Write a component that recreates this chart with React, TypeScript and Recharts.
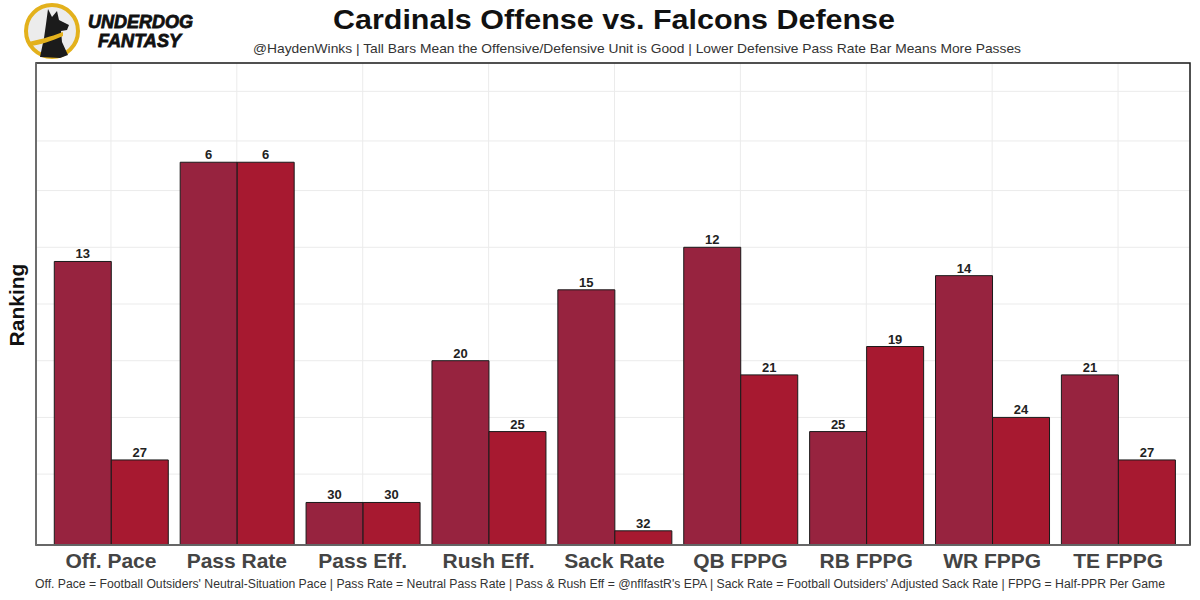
import { BarChart, Bar, XAxis, YAxis, CartesianGrid, LabelList } from 'recharts';

const categories = ['Off. Pace', 'Pass Rate', 'Pass Eff.', 'Rush Eff.', 'Sack Rate', 'QB FPPG', 'RB FPPG', 'WR FPPG', 'TE FPPG'];
const offenseRank = [13, 6, 30, 20, 15, 12, 25, 14, 21];
const defenseRank = [27, 6, 30, 25, 32, 21, 19, 24, 27];
const gridTicks = [5, 9, 13, 17, 21, 25, 28.5, 32];
const TEAMS = 32;

const OFF_COLOR = '#97233F';
const DEF_COLOR = '#A71930';
const FONT = '"Liberation Sans", Arial, sans-serif';

// bar height = inverse of rank, so rank 1 is tallest
const chartData = categories.map((name, i) => ({
  name,
  offRank: offenseRank[i],
  defRank: defenseRank[i],
  off: TEAMS + 1 - offenseRank[i],
  def: TEAMS + 1 - defenseRank[i],
}));

function Logo() {
  return (
    <g>
      <circle cx={52} cy={31} r={26} fill="#ececec" stroke="#E3B11C" strokeWidth={4} />
      <path d="M40 57 L44 38 L46 24 L48 9 L52 17 L57 11 L59 20 L69 25 L67 30 L61 31 L62 42 L68 55 L60 58 Z" fill="#1b1b1b" />
      <path d="M28 42 C38 40 50 37 63 32 L63 36 C52 41 40 45 30 46 Z" fill="#E3B11C" />
      <text x={88} y={28} fontFamily={FONT} fontSize={18} fontWeight={900} fontStyle="italic" fill="#111" stroke="#111" strokeWidth={0.8} textLength={105} lengthAdjust="spacingAndGlyphs">UNDERDOG</text>
      <text x={98} y={47} fontFamily={FONT} fontSize={18} fontWeight={900} fontStyle="italic" fill="#111" stroke="#111" strokeWidth={0.8} textLength={83} lengthAdjust="spacingAndGlyphs">FANTASY</text>
    </g>
  );
}

export default function App() {
  return (
    <div style={{ position: 'relative', width: 1200, height: 600, background: '#fff', fontFamily: FONT }}>
      <style>{`body{margin:0}`}</style>
      <div style={{ position: 'absolute', left: 0, top: 0 }}>
        <BarChart
          width={1200}
          height={600}
          data={chartData}
          margin={{ top: 63, right: 10, left: 36, bottom: 25 }}
          barCategoryGap="5%"
          barGap={0}
        >
          <CartesianGrid stroke="#ebebeb" strokeWidth={1} />
          <XAxis
            dataKey="name"
            height={30}
            padding={{ left: 12, right: 9 }}
            tickLine={false}
            axisLine={{ stroke: '#777', strokeWidth: 1.5 }}
            tick={{ fontSize: 21, fontWeight: 700, fill: '#444', fontFamily: FONT }}
            interval={0}
          />
          <YAxis hide domain={[0, 34]} ticks={gridTicks} />
          <Bar dataKey="off" fill={OFF_COLOR} stroke="#1a1a1a" strokeWidth={1} isAnimationActive={false}>
            <LabelList dataKey="offRank" position="top" offset={3} style={{ fontSize: 13, fontWeight: 700, fill: '#222', fontFamily: FONT }} />
          </Bar>
          <Bar dataKey="def" fill={DEF_COLOR} stroke="#1a1a1a" strokeWidth={1} isAnimationActive={false}>
            <LabelList dataKey="defRank" position="top" offset={3} style={{ fontSize: 13, fontWeight: 700, fill: '#222', fontFamily: FONT }} />
          </Bar>
        </BarChart>
      </div>
      <svg width={1200} height={600} style={{ position: 'absolute', left: 0, top: 0, pointerEvents: 'none' }}>
        <Logo />
        <rect x={36} y={63} width={1154} height={482} fill="none" stroke="#1a1a1a" strokeWidth={1.5} />
        <line x1={36} y1={63} x2={36} y2={545} stroke="#777" strokeWidth={1.5} />
        <line x1={36} y1={545} x2={1190} y2={545} stroke="#777" strokeWidth={1.5} />
        <text x={614} y={29} textAnchor="middle" fontFamily={FONT} fontSize={28} fontWeight={700} fill="#111" textLength={562} lengthAdjust="spacingAndGlyphs">
          Cardinals Offense vs. Falcons Defense
        </text>
        <text x={637} y={53} textAnchor="middle" fontFamily={FONT} fontSize={13} fill="#333" textLength={768} lengthAdjust="spacingAndGlyphs">
          @HaydenWinks | Tall Bars Mean the Offensive/Defensive Unit is Good | Lower Defensive Pass Rate Bar Means More Passes
        </text>
        <text transform="translate(24,305) rotate(-90)" textAnchor="middle" fontFamily={FONT} fontSize={21} fontWeight={700} fill="#111">
          Ranking
        </text>
        <text x={600} y={588} textAnchor="middle" fontFamily={FONT} fontSize={12.5} fill="#333" textLength={1130} lengthAdjust="spacingAndGlyphs">
          Off. Pace = Football Outsiders' Neutral-Situation Pace | Pass Rate = Neutral Pass Rate | Pass &amp; Rush Eff = @nflfastR's EPA | Sack Rate = Football Outsiders' Adjusted Sack Rate | FPPG = Half-PPR Per Game
        </text>
      </svg>
    </div>
  );
}
